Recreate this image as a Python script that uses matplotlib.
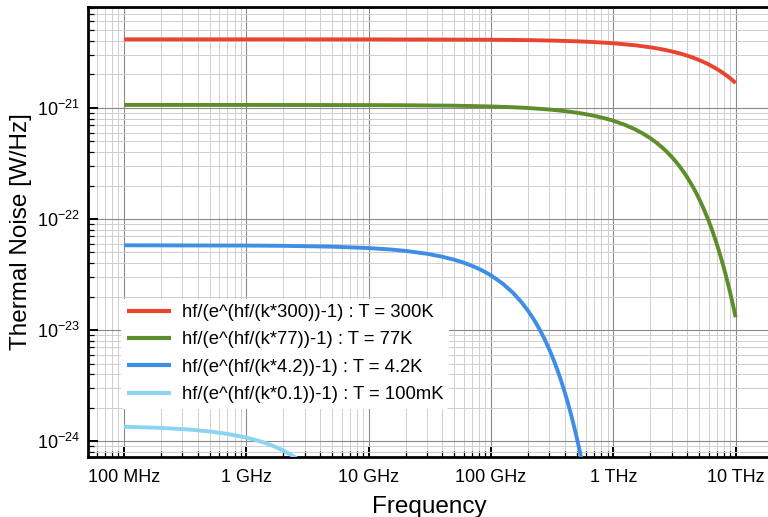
import matplotlib
matplotlib.use("Agg")
import matplotlib.pyplot as plt
from matplotlib.ticker import LogLocator, FixedLocator, FixedFormatter, NullFormatter

plt.rcParams['font.family'] = ['Liberation Sans', 'DejaVu Sans']
plt.rcParams['mathtext.fontset'] = 'custom'
plt.rcParams['mathtext.rm'] = 'Liberation Sans'

# ---- data ----
f_300 = [1e8, 1e9, 1e10, 1e11, 2e11, 3e11, 5e11, 7e11, 1e12, 1.5e12, 2e12, 2.5e12, 3e12,
         3.5e12, 4e12, 4.5e12, 5e12, 5.5e12, 6e12, 7e12, 8e12, 9e12, 1e13]
p_300 = [4.143e-21, 4.1427e-21, 4.140e-21, 4.110e-21, 4.077e-21, 4.044e-21, 3.979e-21,
         3.915e-21, 3.820e-21, 3.666e-21, 3.515e-21, 3.370e-21, 3.228e-21, 3.091e-21,
         2.958e-21, 2.829e-21, 2.705e-21, 2.584e-21, 2.468e-21, 2.247e-21, 2.042e-21,
         1.853e-21, 1.677e-21]

f_77 = [1e8, 1e9, 1e10, 2e10, 5e10, 1e11, 1.5e11, 2e11, 3e11, 4e11, 5e11, 6e11, 7e11,
        8.5e11, 1e12, 1.25e12, 1.5e12, 1.75e12, 2e12, 2.25e12, 2.5e12, 2.75e12, 3e12,
        3.25e12, 3.5e12, 3.75e12, 4e12, 4.25e12, 4.5e12, 4.75e12, 5e12, 5.5e12, 6e12,
        6.5e12, 7e12, 7.5e12, 8e12, 8.5e12, 9e12, 9.5e12, 1e13]
p_77 = [1.0634e-21, 1.0631e-21, 1.0601e-21, 1.0568e-21, 1.0469e-21, 1.0306e-21, 1.0145e-21,
        9.985e-22, 9.671e-22, 9.363e-22, 9.063e-22, 8.769e-22, 8.484e-22, 8.065e-22,
        7.662e-22, 7.024e-22, 6.426e-22, 5.869e-22, 5.349e-22, 4.866e-22, 4.418e-22,
        4.005e-22, 3.624e-22, 3.273e-22, 2.952e-22, 2.658e-22, 2.388e-22, 2.144e-22,
        1.922e-22, 1.720e-22, 1.537e-22, 1.223e-22, 9.68e-23, 7.631e-23, 5.99e-23,
        4.680e-23, 3.647e-23, 2.832e-23, 2.194e-23, 1.694e-23, 1.305e-23]

f_4k2 = [1e8, 1e9, 2e9, 5e9, 1e10, 1.5e10, 2e10, 3e10, 4e10, 5e10, 6e10, 7e10, 8e10,
         9e10, 1e11, 1.25e11, 1.5e11, 1.75e11, 2e11, 2.25e11, 2.5e11, 2.75e11, 3e11,
         3.25e11, 3.5e11, 3.75e11, 4e11, 4.25e11, 4.5e11, 4.75e11, 5e11, 5.25e11,
         5.5e11, 6e11]
p_4k2 = [5.797e-23, 5.767e-23, 5.734e-23, 5.636e-23, 5.475e-23, 5.317e-23, 5.163e-23,
         4.862e-23, 4.575e-23, 4.300e-23, 4.037e-23, 3.787e-23, 3.548e-23, 3.320e-23,
         3.104e-23, 2.612e-23, 2.184e-23, 1.816e-23, 1.501e-23, 1.235e-23, 1.010e-23,
         8.226e-24, 6.669e-24, 5.385e-24, 4.331e-24, 3.472e-24, 2.773e-24, 2.209e-24,
         1.754e-24, 1.389e-24, 1.098e-24, 8.657e-25, 6.81e-25, 4.19e-25]

f_100m = [1e8, 2e8, 3e8, 4e8, 5e8, 7e8, 1e9, 1.25e9, 1.5e9, 1.75e9, 2e9, 2.25e9, 2.5e9, 3e9]
p_100m = [1.348e-24, 1.316e-24, 1.284e-24, 1.2527e-24, 1.222e-24, 1.162e-24, 1.076e-24,
          1.008e-24, 9.431e-25, 8.813e-25, 8.227e-25, 7.671e-25, 7.144e-25, 6.176e-25]

labels = ["hf/(e^(hf/(k*300))-1) : T = 300K",
          "hf/(e^(hf/(k*77))-1) : T = 77K",
          "hf/(e^(hf/(k*4.2))-1) : T = 4.2K",
          "hf/(e^(hf/(k*0.1))-1) : T = 100mK"]
colors = ["#E9442F", "#5E8D2C", "#3E8EE6", "#8DD3F2"]

x_ticks = [1e8, 1e9, 1e10, 1e11, 1e12, 1e13]
x_ticklabels = ["100 MHz", "1 GHz", "10 GHz", "100 GHz", "1 THz", "10 THz"]
y_ticks = [1e-24, 1e-23, 1e-22, 1e-21]
y_ticklabels = [r"$10^{-24}$", r"$10^{-23}$", r"$10^{-22}$", r"$10^{-21}$"]

# ---- figure ----
fig = plt.figure(figsize=(7.68, 5.17), dpi=100)
ax = fig.add_axes([88/768, 1 - 457/517, 1 - 88/768 + 0.003, (457 - 7)/517])

series = [(f_300, p_300), (f_77, p_77), (f_4k2, p_4k2), (f_100m, p_100m)]
for (fx, py), lab, c in zip(series, labels, colors):
    ax.plot(fx, py, color=c, lw=2.8, label=lab, solid_capstyle='butt', zorder=3)

ax.set_xscale('log')
ax.set_yscale('log')
ax.set_xlim(5.07e7, 1.92e13)
ax.set_ylim(7.2e-25, 8.1e-21)

ax.xaxis.set_major_locator(FixedLocator(x_ticks))
ax.xaxis.set_major_formatter(FixedFormatter(x_ticklabels))
ax.xaxis.set_minor_locator(LogLocator(base=10, subs=range(2, 10), numticks=20))
ax.xaxis.set_minor_formatter(NullFormatter())
ax.yaxis.set_major_locator(FixedLocator(y_ticks))
ax.yaxis.set_major_formatter(FixedFormatter(y_ticklabels))
ax.yaxis.set_minor_locator(LogLocator(base=10, subs=range(2, 10), numticks=20))
ax.yaxis.set_minor_formatter(NullFormatter())

ax.grid(True, which='major', color='#8a8a8a', lw=0.8, zorder=1)
ax.grid(True, which='minor', color='#cfcfcf', lw=0.7, zorder=1)
ax.set_axisbelow(True)

ax.tick_params(which='major', direction='in', length=7, width=1.4, labelsize=13,
               colors='black', pad=9)
ax.tick_params(which='minor', direction='in', length=4, width=0.9)
ax.tick_params(axis='y', which='major', pad=6)

for s in ['left', 'bottom', 'top']:
    ax.spines[s].set_linewidth(2.0)
ax.spines['right'].set_visible(False)

ax.set_xlabel("Frequency", fontsize=17.5, labelpad=7)
ax.set_ylabel("Thermal Noise [W/Hz]", fontsize=17.5, labelpad=3)

leg = ax.legend(loc='upper left', bbox_to_anchor=(0.049, 0.352), fontsize=13.3,
                frameon=True, framealpha=1.0, edgecolor='none', facecolor='white',
                handlelength=2.4, handletextpad=0.6, labelspacing=0.56,
                borderpad=0.3, borderaxespad=0)
for lh in leg.get_lines():
    lh.set_linewidth(3)

fig.savefig("out.png", dpi=100)
